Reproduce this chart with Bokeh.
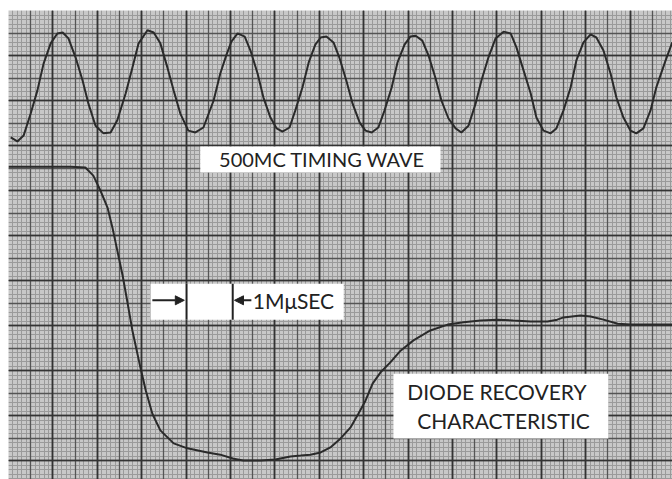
from bokeh.plotting import figure
from bokeh.models import Grid, SingleIntervalTicker, Range1d, Arrow, NormalHead
from bokeh.core.properties import value
from bokeh.embed import file_html
from bokeh.resources import INLINE

# 500 MC timing wave: time (ns) vs deflection (divisions)
timing_t = [0.05, 0.20, 0.34, 0.50, 0.65, 0.79, 0.95, 1.10, 1.22, 1.35, 1.51, 1.67, 1.80, 1.96,
            2.14, 2.30, 2.45, 2.64, 2.79, 2.93, 3.13, 3.27, 3.42, 3.58, 3.72, 3.87, 4.05, 4.21,
            4.39, 4.62, 4.77, 4.91, 5.02, 5.16, 5.32, 5.45, 5.61, 5.74, 5.90, 6.04, 6.17, 6.33,
            6.46, 6.62, 6.76, 6.91, 7.03, 7.16, 7.32, 7.45, 7.61, 7.75, 7.91, 8.04, 8.18, 8.33,
            8.47, 8.63, 8.76, 8.92, 9.05, 9.17, 9.32, 9.46, 9.62, 9.75, 9.91, 10.07, 10.20, 10.36,
            10.52, 10.65, 10.81, 10.97, 11.15, 11.31, 11.44, 11.60, 11.76, 11.89, 12.05, 12.21,
            12.34, 12.50, 12.66, 12.79, 12.95, 13.11, 13.24, 13.40, 13.56, 13.69, 13.85, 14.01,
            14.14, 14.30, 14.46, 14.59, 14.80, 14.95]
timing_v = [7.18, 7.09, 7.22, 7.71, 8.22, 8.82, 9.27, 9.49, 9.51, 9.38, 8.96, 8.44, 7.93, 7.44,
            7.27, 7.29, 7.56, 8.16, 8.73, 9.27, 9.56, 9.51, 9.27, 8.73, 8.22, 7.71, 7.33, 7.29,
            7.40, 8.00, 8.60, 9.02, 9.31, 9.49, 9.42, 9.11, 8.60, 8.07, 7.62, 7.38, 7.31, 7.40,
            7.78, 8.29, 8.84, 9.24, 9.40, 9.42, 9.29, 8.96, 8.44, 7.93, 7.51, 7.33, 7.29, 7.40,
            7.78, 8.29, 8.84, 9.24, 9.42, 9.44, 9.33, 9.00, 8.49, 8.00, 7.60, 7.38, 7.29, 7.44,
            7.93, 8.44, 8.96, 9.38, 9.53, 9.49, 9.18, 8.67, 8.16, 7.62, 7.33, 7.27,
            7.38, 7.78, 8.29, 8.89, 9.29, 9.47, 9.40, 9.11, 8.60, 8.07, 7.62, 7.33,
            7.27, 7.38, 7.78, 8.29, 8.89, 9.29]

# Diode recovery characteristic: time (ns) vs deflection (divisions)
diode_t = [0.00, 0.72, 1.40, 1.73, 1.91, 2.07, 2.23, 2.34, 2.45, 2.57, 2.68, 2.79, 2.97, 3.09,
           3.24, 3.42, 3.72, 4.03, 4.48, 4.77, 5.07, 5.29, 5.68, 6.01, 6.35, 6.58, 6.80, 7.03,
           7.25, 7.48, 7.70, 7.88, 8.04, 8.20, 8.38, 8.60, 8.83, 9.12, 9.50, 9.89, 10.25, 10.63,
           11.01, 11.37, 11.76, 12.14, 12.36, 12.50, 12.88, 13.11, 13.40, 13.72, 14.01, 14.39, 14.95]
diode_v = [6.53, 6.53, 6.53, 6.51, 6.33, 6.00, 5.62, 5.18, 4.67, 4.11, 3.51, 2.89, 2.07, 1.56,
           1.04, 0.67, 0.38, 0.27, 0.18, 0.13, 0.04, 0.00, 0.00, 0.02, 0.09, 0.11, 0.13, 0.18,
           0.29, 0.49, 0.73, 1.04, 1.33, 1.71, 1.96, 2.18, 2.44, 2.67, 2.89, 3.02, 3.07, 3.11,
           3.13, 3.11, 3.09, 3.09, 3.13, 3.18, 3.22, 3.20, 3.13, 3.04, 3.02, 3.02, 3.02]

# Annotation label boxes
label_boxes_left = [4.32, 3.20, 8.67]
label_boxes_right = [9.73, 7.55, 13.51]
label_boxes_bottom = [6.40, 3.13, 0.49]
label_boxes_top = [6.98, 3.93, 1.93]

timing_label = "500MC TIMING WAVE"
scale_label = "1MμSEC"
diode_label = ["DIODE  RECOVERY", "CHARACTERISTIC"]

# 1 ns scale marker (bars and arrows)
marker_bars = [4.01, 5.05]
marker_y = 3.56

X0, X1 = 0.0, 664 / 44.4
Y1 = 10.0
Y0 = Y1 - 469 / 45.0

p = figure(width=672, height=479, output_backend="svg", toolbar_location=None,
           x_range=Range1d(X0, X1), y_range=Range1d(Y0, Y1),
           min_border_left=8, min_border_right=0, min_border_top=10, min_border_bottom=0)
p.xaxis.visible = False
p.yaxis.visible = False
p.grid.visible = False
p.outline_line_color = None
p.background_fill_color = "#c8c8c8"
p.border_fill_color = "white"

# graticule: fine, half and major divisions
for interval, color, width in [(0.1, "#9a9a9a", 1.0), (0.5, "#555555", 1.3), (1.0, "#333333", 1.7)]:
    for dim in (0, 1):
        g = Grid(dimension=dim, ticker=SingleIntervalTicker(interval=interval, num_minor_ticks=0),
                 grid_line_color=color, grid_line_width=width)
        p.add_layout(g)

p.line(timing_t, timing_v, line_color="#2a2a2a", line_width=2.0)
p.line(diode_t, diode_v, line_color="#2a2a2a", line_width=2.0)

p.quad(left=label_boxes_left, right=label_boxes_right, bottom=label_boxes_bottom,
       top=label_boxes_top, fill_color="white", line_color=None)

p.text(x=[7.06], y=[6.69], text=[timing_label], text_font=value("Lato"),
       text_font_size=value("20px"), text_align="center", text_baseline="middle",
       text_color="#222222")
p.text(x=[5.50], y=[marker_y], text=[scale_label], text_font=value("Lato"),
       text_font_size=value("21px"), text_align="left", text_baseline="middle",
       text_color="#222222")
p.text(x=[11.06, 11.15], y=[1.53, 0.90], text=diode_label, text_font=value("Lato"),
       text_font_size=value("21px"), text_align="center", text_baseline="middle",
       text_color="#222222")

# scale marker bars
p.segment(x0=marker_bars, y0=[label_boxes_bottom[1]] * 2, x1=marker_bars,
          y1=[label_boxes_top[1]] * 2, line_color="#222222", line_width=2)
p.add_layout(Arrow(end=NormalHead(size=9, fill_color="#222222", line_color="#222222"),
                   x_start=3.24, y_start=marker_y, x_end=marker_bars[0] - 0.05, y_end=marker_y,
                   line_color="#222222", line_width=2))
p.add_layout(Arrow(end=NormalHead(size=9, fill_color="#222222", line_color="#222222"),
                   x_start=5.47, y_start=marker_y, x_end=marker_bars[1] + 0.04, y_end=marker_y,
                   line_color="#222222", line_width=2))

open("out.html", "w").write(file_html(p, INLINE))
